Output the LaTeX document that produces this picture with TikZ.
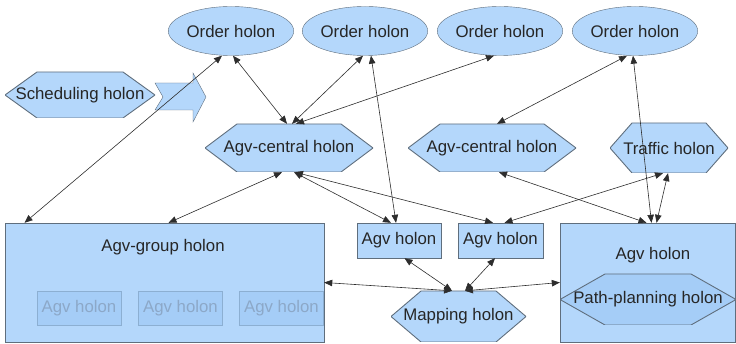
\documentclass[tikz,border=0pt]{standalone}
\usepackage{fontspec}
\setmainfont{Liberation Sans}
\usetikzlibrary{shapes.geometric,arrows.meta}
\definecolor{holonfill}{RGB}{180,215,251}
\definecolor{innerfill}{RGB}{165,205,247}
\definecolor{holonline}{RGB}{95,110,125}
\definecolor{fadedtext}{RGB}{140,168,200}
\definecolor{fadedline}{RGB}{140,175,210}
\definecolor{linkgray}{RGB}{45,45,45}
\begin{document}
\begin{tikzpicture}[x=1pt,y=-1pt,
  every node/.style={font=\fontsize{16.8}{19}\selectfont,text=black!85,inner sep=0pt},
  order/.style={draw=holonline,fill=holonfill,ellipse,minimum width=118,minimum height=49},
  hexa/.style 2 args={path picture={\draw[holonline,fill=#2,line width=0.9pt]
      (path picture bounding box.west) -- ([xshift=#1]path picture bounding box.north west)
      -- ([xshift=-#1]path picture bounding box.north east) -- (path picture bounding box.east)
      -- ([xshift=-#1]path picture bounding box.south east) -- ([xshift=#1]path picture bounding box.south west) -- cycle;}},
  agvbox/.style={draw=holonline,fill=holonfill,minimum width=84,minimum height=35},
  faded/.style={draw=fadedline,fill=innerfill,text=fadedtext,minimum width=84,minimum height=34},
  link/.style={{Triangle[length=8pt,width=6.5pt]}-{Triangle[length=8pt,width=6.5pt]},linkgray,line width=0.6pt}]
\useasboundingbox (0,0) rectangle (736,344);
% order holons
\node[order] (o1) at (231,31) {Order holon};
\node[order] (o2) at (365,31) {Order holon};
\node[order] (o3) at (500,31) {Order holon};
\node[order] (o4) at (635,31) {Order holon};
% scheduling + block arrow
\node[hexa={32}{holonfill},minimum width=150,minimum height=46] (sch) at (80,95) {Scheduling holon};
\draw[holonline,fill=holonfill] (155,83) -- (193,83) -- (193,73) -- (206,97) -- (193,122) -- (193,110) -- (155,110) -- (163,97) -- cycle;
% central and traffic holons
\node[hexa={32}{holonfill},minimum width=168,minimum height=48] (acl) at (289,148) {Agv-central holon};
\node[hexa={32}{holonfill},minimum width=168,minimum height=48] (acr) at (492,148) {Agv-central holon};
\node[hexa={22}{holonfill},minimum width=118,minimum height=50] (tr) at (669,148) {Traffic holon};
% agv-group holon
\node[draw=holonline,fill=holonfill,minimum width=319,minimum height=119] (grp) at (164.5,282.5) {};
\node (grplbl) at (163,247) {Agv-group holon};
\node[faded] (f1) at (79,308) {Agv holon};
\node[faded] (f2) at (180.5,308) {Agv holon};
\node[faded] (f3) at (281.5,308) {Agv holon};
% single agv holons
\node[agvbox] (a1) at (399,240.5) {Agv holon};
\node[agvbox,minimum width=85] (a2) at (500.5,240.5) {Agv holon};
\node[draw=holonline,fill=holonfill,minimum width=175,minimum height=119] (big) at (647.5,282.5) {};
\node (biglbl) at (653,255) {Agv holon};
\node[hexa={45}{innerfill},minimum width=176,minimum height=51] (pp) at (648,299.5) {Path-planning holon};
\node[hexa={30}{holonfill},minimum width=135,minimum height=51] (map) at (458.5,316.5) {Mapping holon};
% links
\draw[link] ([xshift=-9]o1.south) -- ([xshift=-140]grp.north);
\draw[link] ([xshift=2]o1.south) -- ([xshift=-2]acl.north);
\draw[link] ([xshift=-2]o2.south) -- ([xshift=3]acl.north);
\draw[link] ([xshift=-6]o3.south) -- ([xshift=7]acl.north);
\draw[link] ([xshift=6]o2.south) -- ([xshift=-3]a1.north);
\draw[link] ([xshift=-8]o4.south) -- ([xshift=5]acr.north);
\draw[link] ([xshift=-2]o4.south) -- ([xshift=4]big.north);
\draw[link] ([xshift=-1]tr.south) -- ([xshift=9]big.north);
\draw[link] ([xshift=-6]tr.south) -- ([xshift=4]a2.north);
\draw[link] ([xshift=7]acr.south) -- ([xshift=-1]big.north);
\draw[link] ([xshift=-7]acl.south) -- ([xshift=4]grp.north);
\draw[link] ([xshift=5]acl.south) -- ([xshift=-8]a1.north);
\draw[link] ([xshift=6]acl.south) -- ([xshift=-7.5]a2.north);
\draw[link] ([xshift=5.5]a1.south) -- ([xshift=-6.5]map.north);
\draw[link] ([xshift=-5.5]a2.south) -- ([xshift=6.5]map.north);
\draw[link] (grp.east) -- ([xshift=-6.5]map.north);
\draw[link] ([xshift=6.5]map.north) -- (big.west);
\end{tikzpicture}
\end{document}
